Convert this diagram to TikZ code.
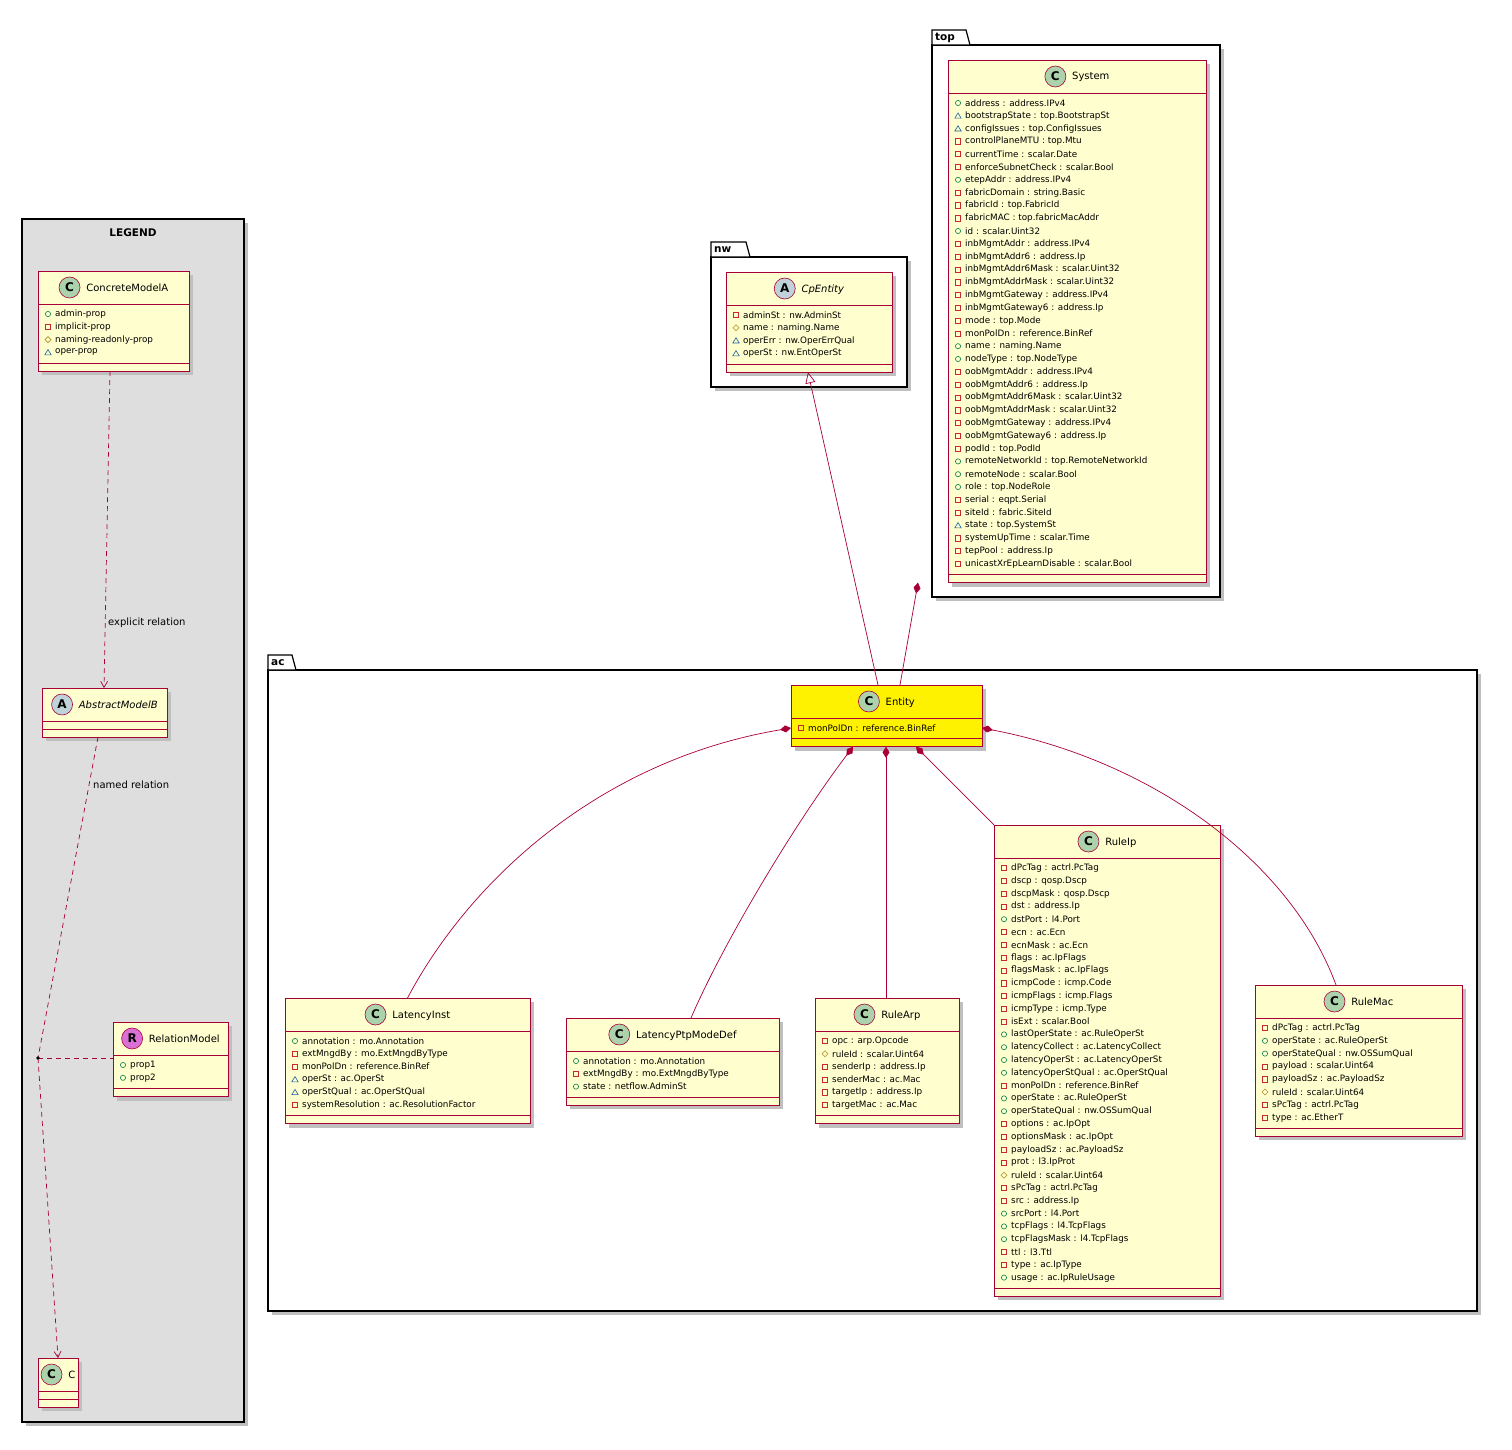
\documentclass[tikz,border=0pt]{standalone}
\usepackage{fontspec}
\setmainfont{DejaVu Sans}
\usetikzlibrary{arrows.meta}
\definecolor{umlred}{HTML}{A80036}
\definecolor{umlfill}{HTML}{FEFECE}
\definecolor{vgreen}{HTML}{038048}
\definecolor{vred}{HTML}{C82930}
\definecolor{vyel}{HTML}{B38D22}
\definecolor{vblue}{HTML}{1963A0}
\definecolor{orchid}{HTML}{DA70D6}
\tikzset{
  umlline/.style={draw=umlred,line width=0.8pt},
  shadowbox/.style={fill=black!25,draw=none},
  attr/.style={anchor=west,inner sep=0,font=\fontsize{8.8}{10}\selectfont},
  ttl/.style={inner sep=0,font=\fontsize{10}{12}\selectfont},
  pkg/.style={draw=black,line width=1.2pt,fill=white},
  lnk/.style={draw=umlred,line width=0.7pt},
  dsh/.style={dash pattern=on 5pt off 4pt},
}
\newcommand\icn[2]{\tikz[baseline=-3.5pt]{\draw[umlred,fill=#1,line width=.6pt] (0,0) circle (10.5pt);\node[inner sep=0,font=\fontsize{12}{12}\bfseries\selectfont] at (0,0) {#2};}}
\newcommand\iconC{\icn{green!30!gray!50}{C}}
\newcommand\iconA{\icn{cyan!30!gray!45}{A}}
\newcommand\iconR{\icn{orchid}{R}}
\newcommand\visp[1]{\draw[vgreen,line width=.6pt] #1 circle (2.6);}
\newcommand\vism[1]{\draw[vred,line width=.6pt] #1 ++(-2.6,-2.6) rectangle ++(5.2,5.2);}
\newcommand\vish[1]{\draw[vyel,line width=.6pt] #1 ++(-3,0) -- ++(3,-3) -- ++(3,3) -- ++(-3,3) -- cycle;}
\newcommand\vist[1]{\draw[vblue,line width=.6pt] #1 ++(-3.2,2.4) -- ++(6.4,0) -- ++(-3.2,-5.2) -- cycle;}
% #1 fill, #2 name, #3 L, #4 T, #5 R, #6 n, #7 icon, #8 title, #9 attrs
\newcommand\umlclass[9][umlfill]{%
  \pgfmathsetmacro\cbot{#4+33+#6*12.8+16}%
  \fill[shadowbox] (#3+4,#4+4) rectangle (#5+4,\cbot+4);
  \path[umlline,fill=#1] (#3,#4) rectangle (#5,\cbot);
  \node[inner sep=0,outer sep=0,minimum width={(#5-#3)*1pt},minimum height={(\cbot-#4)*1pt}] (#2) at ({(#3+#5)/2},{(#4+\cbot)/2}) {};
  \draw[umlline] (#3,#4+33) -- (#5,#4+33);
  \draw[umlline] (#3,\cbot-8) -- (#5,\cbot-8);
  \node[ttl] at ({(#3+#5)/2},#4+16.5) {#7\hspace{6pt}#8};
  \ifnum#6>0
  \foreach \m/\t [count=\i from 0] in {#9} {
    \csname vis\m\endcsname{({#3+10},{#4+43+\i*12.8})}
    \node[attr] at ({#3+17},{#4+43+\i*12.8}) {\t};
  }
  \fi
}
\newcommand\umlpkg[6]{% L T R B label width
  \fill[shadowbox] (#1+4,#2+4) rectangle (#3+4,#4+4);
  \path[pkg] (#1,#2) rectangle (#3,#4);
  \path[pkg] (#1,#2) -- (#1,#2-15) -- (#1+#6,#2-15) -- (#1+#6+4,#2) -- cycle;
  \node[inner sep=0,anchor=west,font=\fontsize{10.5}{12}\bfseries\selectfont] at (#1+3,#2-7) {#5};
}
\begin{document}
\begin{tikzpicture}[x=1pt,y=-1pt]
\useasboundingbox (0,0) rectangle (1512,1450);
% legend
\fill[shadowbox] (26,223) rectangle (248,1426);
\path[draw=black,line width=1.2pt,fill=black!13] (22,219) rectangle (244,1422);
\node[font=\fontsize{10.5}{12}\bfseries\selectfont] at (133,233) {LEGEND};
% packages
\umlpkg{932}{45}{1220}{597}{top}{34}
\umlpkg{711}{257}{907}{387}{nw}{35}
\umlpkg{268}{670}{1477}{1311}{ac}{24}
% classes
\umlclass{sys}{948}{60}{1206}{37}{\iconC}{System}{p/address : address.IPv4,t/bootstrapState : top.BootstrapSt,t/configIssues : top.ConfigIssues,m/controlPlaneMTU : top.Mtu,m/currentTime : scalar.Date,m/enforceSubnetCheck : scalar.Bool,p/etepAddr : address.IPv4,m/fabricDomain : string.Basic,m/fabricId : top.FabricId,m/fabricMAC : top.fabricMacAddr,p/id : scalar.Uint32,m/inbMgmtAddr : address.IPv4,m/inbMgmtAddr6 : address.Ip,m/inbMgmtAddr6Mask : scalar.Uint32,m/inbMgmtAddrMask : scalar.Uint32,m/inbMgmtGateway : address.IPv4,m/inbMgmtGateway6 : address.Ip,m/mode : top.Mode,m/monPolDn : reference.BinRef,p/name : naming.Name,p/nodeType : top.NodeType,m/oobMgmtAddr : address.IPv4,m/oobMgmtAddr6 : address.Ip,m/oobMgmtAddr6Mask : scalar.Uint32,m/oobMgmtAddrMask : scalar.Uint32,m/oobMgmtGateway : address.IPv4,m/oobMgmtGateway6 : address.Ip,m/podId : top.PodId,p/remoteNetworkId : top.RemoteNetworkId,p/remoteNode : scalar.Bool,p/role : top.NodeRole,m/serial : eqpt.Serial,m/siteId : fabric.SiteId,t/state : top.SystemSt,m/systemUpTime : scalar.Time,m/tepPool : address.Ip,m/unicastXrEpLearnDisable : scalar.Bool}
\umlclass{cpe}{726}{272}{892}{4}{\iconA}{\itshape CpEntity}{m/adminSt : nw.AdminSt,h/name : naming.Name,t/operErr : nw.OperErrQual,t/operSt : nw.EntOperSt}
\umlclass[yellow]{ent}{791}{685}{982}{1}{\iconC}{Entity}{m/monPolDn : reference.BinRef}
\umlclass{li}{285}{998}{530}{6}{\iconC}{LatencyInst}{p/annotation : mo.Annotation,m/extMngdBy : mo.ExtMngdByType,m/monPolDn : reference.BinRef,t/operSt : ac.OperSt,t/operStQual : ac.OperStQual,m/systemResolution : ac.ResolutionFactor}
\umlclass{lp}{566}{1018}{779}{3}{\iconC}{LatencyPtpModeDef}{p/annotation : mo.Annotation,m/extMngdBy : mo.ExtMngdByType,p/state : netflow.AdminSt}
\umlclass{ra}{815}{998}{959}{6}{\iconC}{RuleArp}{m/opc : arp.Opcode,h/ruleId : scalar.Uint64,m/senderIp : address.Ip,m/senderMac : ac.Mac,m/targetIp : address.Ip,m/targetMac : ac.Mac}
\umlclass{rip}{994}{825}{1220}{33}{\iconC}{RuleIp}{m/dPcTag : actrl.PcTag,m/dscp : qosp.Dscp,m/dscpMask : qosp.Dscp,m/dst : address.Ip,p/dstPort : l4.Port,m/ecn : ac.Ecn,m/ecnMask : ac.Ecn,m/flags : ac.IpFlags,m/flagsMask : ac.IpFlags,m/icmpCode : icmp.Code,m/icmpFlags : icmp.Flags,m/icmpType : icmp.Type,m/isExt : scalar.Bool,p/lastOperState : ac.RuleOperSt,p/latencyCollect : ac.LatencyCollect,p/latencyOperSt : ac.LatencyOperSt,p/latencyOperStQual : ac.OperStQual,m/monPolDn : reference.BinRef,p/operState : ac.RuleOperSt,p/operStateQual : nw.OSSumQual,m/options : ac.IpOpt,m/optionsMask : ac.IpOpt,m/payloadSz : ac.PayloadSz,m/prot : l3.IpProt,h/ruleId : scalar.Uint64,m/sPcTag : actrl.PcTag,m/src : address.Ip,p/srcPort : l4.Port,p/tcpFlags : l4.TcpFlags,p/tcpFlagsMask : l4.TcpFlags,m/ttl : l3.Ttl,m/type : ac.IpType,p/usage : ac.IpRuleUsage}
\umlclass{rm}{1255}{985}{1462}{8}{\iconC}{RuleMac}{m/dPcTag : actrl.PcTag,p/operState : ac.RuleOperSt,p/operStateQual : nw.OSSumQual,m/payload : scalar.Uint64,m/payloadSz : ac.PayloadSz,h/ruleId : scalar.Uint64,m/sPcTag : actrl.PcTag,m/type : ac.EtherT}
% legend classes
\umlclass{cma}{38}{271}{189}{4}{\iconC}{ConcreteModelA}{p/admin-prop,m/implicit-prop,h/naming-readonly-prop,t/oper-prop}
\umlclass{amb}{42}{688}{167}{0}{\iconA}{\itshape AbstractModelB}{}
\umlclass{relm}{113}{1022}{228}{2}{\iconR}{RelationModel}{p/prop1,p/prop2}
\umlclass{cc}{38}{1358}{78}{0}{\iconC}{C}{}
% connectors
\draw[lnk,-{Triangle[open,length=11pt,width=10pt]}] (ent.north -| 878,0) -- (cpe.south -| 808,0);
\draw[lnk,{Diamond[length=11pt,width=7pt]}-] (sys.south -| 918,0) -- (ent.north -| 900,0);
\draw[lnk,{Diamond[length=11pt,width=7pt]}-] (ent.west |- 0,728) .. controls (600,760) and (470,880) .. (li.north);
\draw[lnk,{Diamond[length=11pt,width=7pt]}-] (ent.south -| 853,0) .. controls (790,830) and (720,950) .. (lp.north -| 691,0);
\draw[lnk,{Diamond[length=11pt,width=7pt]}-] (ent.south -| 886,0) -- (ra.north -| 886,0);
\draw[lnk,{Diamond[length=11pt,width=7pt]}-] (ent.south -| 916,0) -- (rip.north west);
\draw[lnk,{Diamond[length=11pt,width=7pt]}-] (ent.east |- 0,728) .. controls (1150,760) and (1290,860) .. (rm.north -| 1336,0);
\draw[lnk,dsh,-{Straight Barb[length=6pt,width=7pt]}] (cma.south -| 110,0) -- (amb.north -| 104,0);
\node[anchor=west,inner sep=0,font=\fontsize{10}{12}\selectfont] (lab1) at (108,623) {explicit relation};
\coordinate (pt) at (38,1058);
\draw[lnk,dsh] (amb.south -| 98,0) -- (pt);
\draw[lnk,dsh,-{Straight Barb[length=6pt,width=7pt]}] (pt) -- (cc.north -| 58,0);
\draw[lnk,dsh] (pt) -- (relm.west |- pt);
\fill (pt) circle (1.8);
\node[anchor=west,inner sep=0,font=\fontsize{10}{12}\selectfont] (lab2) at (93,785) {named relation};
\end{tikzpicture}
\end{document}
